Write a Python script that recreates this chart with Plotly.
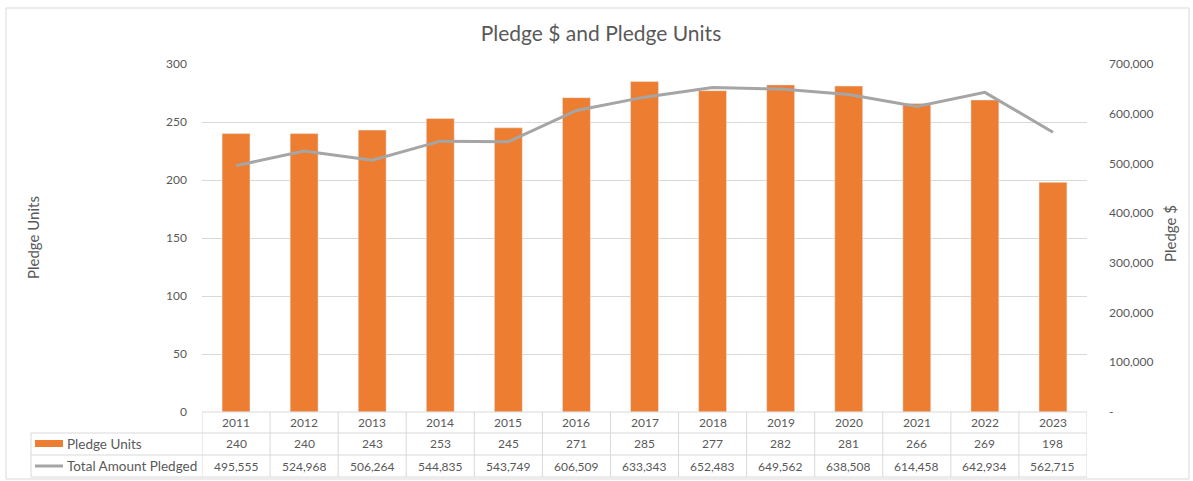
import plotly.graph_objects as go

years = ["2011", "2012", "2013", "2014", "2015", "2016", "2017", "2018", "2019", "2020", "2021", "2022", "2023"]
pledge_units = [240, 240, 243, 253, 245, 271, 285, 277, 282, 281, 266, 269, 198]
total_pledged = [495555, 524968, 506264, 544835, 543749, 606509, 633343, 652483, 649562, 638508, 614458, 642934, 562715]

left_ticks = [0, 50, 100, 150, 200, 250, 300]
right_ticks = [0, 100000, 200000, 300000, 400000, 500000, 600000, 700000]
right_ticktext = ["-" if v == 0 else f"{v:,}" for v in right_ticks]

W, H = 1193, 481
L, R, T, B = 202, 1087, 64, 412
pw, ph = R - L, B - T

def px(x):
    return (x - L) / pw

def py(y):
    return (B - y) / ph

FONT = "Lato, 'Open Sans', sans-serif"
TXT = "#595959"
GRID = "#D9D9D9"
ORANGE = "#ED7D31"
GRAY = "#A5A5A5"

fig = go.Figure()
fig.add_trace(go.Bar(x=years, y=pledge_units, name="Pledge Units", marker_color=ORANGE,
                     width=0.41, yaxis="y"))
fig.add_trace(go.Scatter(x=years, y=total_pledged, name="Total Amount Pledged", mode="lines",
                         line=dict(color=GRAY, width=3), yaxis="y2"))

shapes = []
row_y = [412, 433, 455, 477]
for i, yy in enumerate(row_y):
    x0 = L if i == 0 else 31
    shapes.append(dict(type="line", xref="paper", yref="paper", x0=px(x0), x1=1.0,
                       y0=py(yy), y1=py(yy), line=dict(color=GRID, width=1)))
for i in range(len(years) + 1):
    shapes.append(dict(type="line", xref="x", yref="paper", x0=i - 0.5, x1=i - 0.5,
                       y0=py(412), y1=py(477), line=dict(color=GRID, width=1)))
shapes.append(dict(type="line", xref="paper", yref="paper", x0=px(31), x1=px(31),
                   y0=py(433), y1=py(477), line=dict(color=GRID, width=1)))
shapes.append(dict(type="rect", xref="paper", yref="paper", x0=px(35), x1=px(63),
                   y0=py(447), y1=py(440), fillcolor=ORANGE, line=dict(width=0)))
shapes.append(dict(type="line", xref="paper", yref="paper", x0=px(35), x1=px(63),
                   y0=py(466), y1=py(466), line=dict(color=GRAY, width=3)))
shapes.append(dict(type="rect", xref="paper", yref="paper", x0=px(6), x1=px(1189),
                   y0=py(8), y1=py(479), line=dict(color=GRID, width=1), layer="below"))

annotations = []
tfont = dict(family=FONT, size=12, color=TXT)
lfont = dict(family=FONT, size=13.5, color=TXT)
afont = dict(family=FONT, size=15, color=TXT)
for i, yr in enumerate(years):
    for yy, txt in ((422.5, yr), (444, str(pledge_units[i])), (466, f"{total_pledged[i]:,}")):
        annotations.append(dict(x=i, y=py(yy), xref="x", yref="paper", text=txt, showarrow=False,
                                xanchor="center", yanchor="middle", font=tfont))
annotations.append(dict(x=px(65), y=py(443.5), xref="paper", yref="paper", text="Pledge Units",
                        showarrow=False, xanchor="left", yanchor="middle", font=lfont))
annotations.append(dict(x=px(65), y=py(465.5), xref="paper", yref="paper", text="Total Amount Pledged",
                        showarrow=False, xanchor="left", yanchor="middle", font=lfont))
annotations.append(dict(x=px(33), y=py(238), xref="paper", yref="paper", text="Pledge Units",
                        showarrow=False, textangle=-90, xanchor="center", yanchor="middle",
                        font=afont))
annotations.append(dict(x=px(1170), y=py(234), xref="paper", yref="paper", text="Pledge $",
                        showarrow=False, textangle=-90, xanchor="center", yanchor="middle",
                        font=afont))

fig.update_layout(
    width=W, height=H,
    margin=dict(l=L, r=W - R, t=T, b=H - B),
    paper_bgcolor="white", plot_bgcolor="white",
    showlegend=False,
    title=dict(text="Pledge $ and Pledge Units", x=601 / W, xref="container", xanchor="center",
               y=1 - 34 / H, yanchor="middle", font=dict(family=FONT, size=21, color=TXT)),
    xaxis=dict(type="category", range=[-0.5, len(years) - 0.5], showticklabels=False,
               showgrid=False, zeroline=False, showline=False, ticks=""),
    yaxis=dict(range=[0, 300], tickvals=left_ticks, showgrid=True, gridcolor=GRID, gridwidth=1,
               zeroline=False, showline=False, ticks="", ticklabelstandoff=14,
               tickfont=tfont),
    yaxis2=dict(range=[0, 700000], overlaying="y", side="right", tickvals=right_ticks,
                ticktext=right_ticktext, showgrid=False, zeroline=False, showline=False,
                ticks="", ticklabelstandoff=21, tickfont=tfont),
    bargap=0.59,
    shapes=shapes,
    annotations=annotations,
)

fig.write_html("out.html", config={"displayModeBar": False},
               post_script="document.body.style.margin='0px';")
